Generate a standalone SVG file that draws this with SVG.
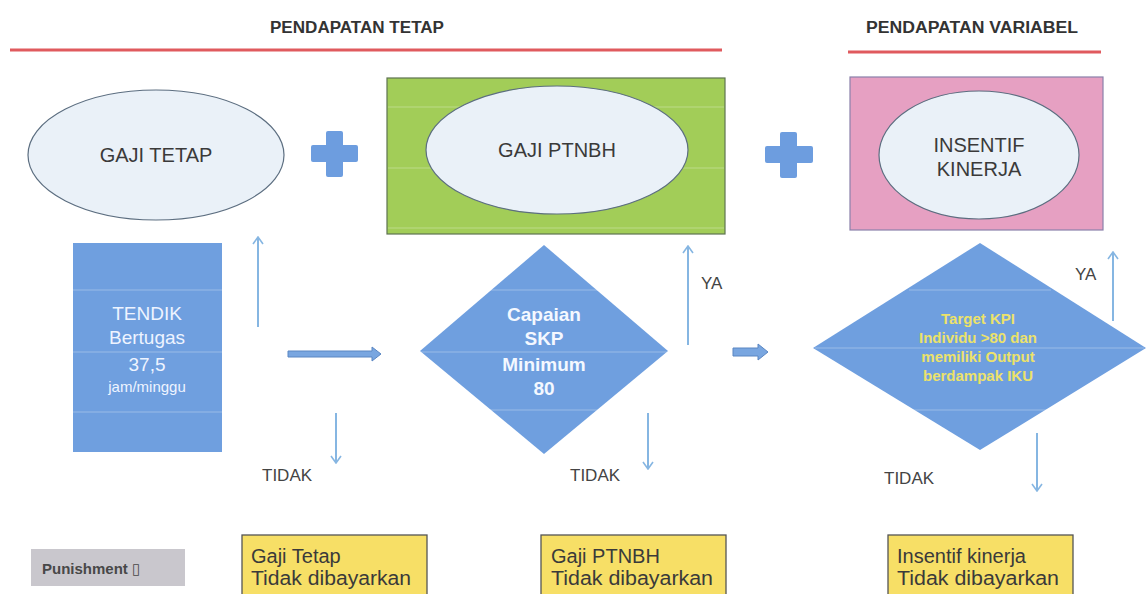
<svg xmlns="http://www.w3.org/2000/svg" width="1147" height="594" viewBox="0 0 1147 594">
<defs>
<style>
.hdr{font-family:"Liberation Sans",Arial,sans-serif;font-weight:bold;font-size:16px;fill:#333}
.ell{fill:#eaf1f8;stroke:#5c6e80;stroke-width:1.2}
.et{font-family:"Liberation Sans",Arial,sans-serif;font-size:20px;fill:#3a3a3a;text-anchor:middle}
.plus{fill:#6d9ddf}
.blue{fill:#6f9fdf}
.scan{stroke:#ffffff;stroke-opacity:0.3;stroke-width:1}
.wt{font-family:"Liberation Sans",Arial,sans-serif;fill:#eef4ff;text-anchor:middle}
.bt{font-family:"Liberation Sans",Arial,sans-serif;font-weight:bold;font-size:19px;fill:#f4f8ff;text-anchor:middle}
.yt{font-family:"Liberation Sans",Arial,sans-serif;font-weight:bold;font-size:15px;fill:#ece26a;text-anchor:middle}
.thin{stroke:#86b6e2;stroke-width:2;fill:none}
.lbl{font-family:"Liberation Sans",Arial,sans-serif;font-size:17px;fill:#444}
.ybox{fill:#f7df66;stroke:#555;stroke-width:1.3}
.ytx{font-family:"Liberation Sans",Arial,sans-serif;font-size:20px;fill:#3a3a3a}
.blk{fill:#79a6e0;stroke:#5a86c2;stroke-width:1}
</style>
<marker id="ah" viewBox="0 0 12 12" refX="11" refY="6" markerWidth="12" markerHeight="12" markerUnits="userSpaceOnUse" orient="auto">
<polyline points="4,1 11,6 4,11" fill="none" stroke="#86b6e2" stroke-width="1.6"/>
</marker>
</defs>
<rect width="1147" height="594" fill="#ffffff"/>

<g id="header-tetap">
<text class="hdr" x="270" y="33" textLength="174" lengthAdjust="spacingAndGlyphs">PENDAPATAN TETAP</text>
<line x1="10" y1="50" x2="722" y2="50" stroke="#e05a5e" stroke-width="3"/>
</g>
<g id="header-variabel">
<text class="hdr" x="866" y="33" textLength="212" lengthAdjust="spacingAndGlyphs">PENDAPATAN VARIABEL</text>
<line x1="848" y1="52" x2="1101" y2="52" stroke="#e05a5e" stroke-width="3"/>
</g>

<g id="gaji-tetap">
<ellipse class="ell" cx="156" cy="155" rx="128" ry="65"/>
<text class="et" x="156" y="162">GAJI TETAP</text>
</g>

<g id="plus-1">
<rect class="plus" x="326" y="131" width="17" height="46" rx="2"/>
<rect class="plus" x="311" y="145" width="47" height="17" rx="2"/>
</g>

<g id="gaji-ptnbh">
<rect x="387" y="78" width="338" height="156" fill="#a2cd58" stroke="#5e7350" stroke-width="1.2"/>
<line class="scan" x1="388" y1="107" x2="724" y2="107"/>
<line class="scan" x1="388" y1="168" x2="724" y2="168"/>
<line class="scan" x1="388" y1="228" x2="724" y2="228"/>
<ellipse class="ell" cx="557" cy="150" rx="131" ry="64"/>
<text class="et" x="557" y="157">GAJI PTNBH</text>
</g>

<g id="plus-2">
<rect class="plus" x="780" y="132" width="17" height="46" rx="2"/>
<rect class="plus" x="765" y="146" width="48" height="17" rx="2"/>
</g>

<g id="insentif-kinerja">
<rect x="850" y="77" width="253" height="153" fill="#e6a0c2" stroke="#8a80aa" stroke-width="1.2"/>
<ellipse class="ell" cx="979" cy="155" rx="100" ry="64"/>
<text class="et" x="979" y="152">INSENTIF</text>
<text class="et" x="979" y="176">KINERJA</text>
</g>

<g id="tendik">
<rect class="blue" x="73" y="243" width="149" height="209"/>
<line class="scan" x1="73" y1="290" x2="222" y2="290"/>
<line class="scan" x1="73" y1="352" x2="222" y2="352"/>
<line class="scan" x1="73" y1="412" x2="222" y2="412"/>
<text class="wt" x="147" y="320" font-size="19">TENDIK</text>
<text class="wt" x="147" y="344" font-size="19">Bertugas</text>
<text class="wt" x="147" y="371" font-size="19">37,5</text>
<text class="wt" x="147" y="392" font-size="15">jam/minggu</text>
</g>

<g id="capaian-skp">
<polygon class="blue" points="544,245 668,351 544,454 420,351"/>
<line class="scan" x1="480" y1="290" x2="608" y2="290"/>
<line class="scan" x1="421" y1="352" x2="667" y2="352"/>
<line class="scan" x1="474" y1="410" x2="614" y2="410"/>
<text class="bt" x="544" y="321">Capaian</text>
<text class="bt" x="544" y="345">SKP</text>
<text class="bt" x="544" y="371">Minimum</text>
<text class="bt" x="544" y="395">80</text>
</g>

<g id="target-kpi">
<polygon class="blue" points="980,243 1146,348 980,450 813,348"/>
<line class="scan" x1="909" y1="290" x2="1051" y2="290"/>
<line class="scan" x1="815" y1="348" x2="1144" y2="348"/>
<line class="scan" x1="882" y1="410" x2="1078" y2="410"/>
<text class="yt" x="978" y="324">Target KPI</text>
<text class="yt" x="978" y="343">Individu &gt;80 dan</text>
<text class="yt" x="978" y="362">memiliki Output</text>
<text class="yt" x="978" y="381">berdampak IKU</text>
</g>

<g id="punishment">
<rect x="31" y="549" width="154" height="37" fill="#c9c7cd"/>
<text x="42" y="574" font-family="Liberation Sans, DejaVu Sans, sans-serif" font-weight="bold" font-size="15" fill="#484848">Punishment ▯</text>
</g>

<g id="gaji-tetap-tidak">
<rect class="ybox" x="242" y="535" width="185" height="70"/>
<text class="ytx" x="251" y="563">Gaji Tetap</text>
<text class="ytx" x="251" y="585" textLength="160" lengthAdjust="spacingAndGlyphs">Tidak dibayarkan</text>
</g>
<g id="gaji-ptnbh-tidak">
<rect class="ybox" x="541" y="535" width="185" height="70"/>
<text class="ytx" x="551" y="563">Gaji PTNBH</text>
<text class="ytx" x="551" y="585" textLength="162" lengthAdjust="spacingAndGlyphs">Tidak dibayarkan</text>
</g>
<g id="insentif-tidak">
<rect class="ybox" x="888" y="535" width="185" height="70"/>
<text class="ytx" x="897" y="563">Insentif kinerja</text>
<text class="ytx" x="897" y="585" textLength="162" lengthAdjust="spacingAndGlyphs">Tidak dibayarkan</text>
</g>

<g id="connectors">
<line class="thin" x1="258" y1="327" x2="258" y2="237" marker-end="url(#ah)"/>
<line class="thin" x1="336" y1="413" x2="336" y2="463" marker-end="url(#ah)"/>
<text class="lbl" x="262" y="481">TIDAK</text>
<polygon class="blk" points="288,351 372,351 372,347 381,354 372,361 372,357 288,357"/>
<line class="thin" x1="688" y1="345" x2="688" y2="246" marker-end="url(#ah)"/>
<text class="lbl" x="701" y="289">YA</text>
<line class="thin" x1="648" y1="413" x2="648" y2="469" marker-end="url(#ah)"/>
<text class="lbl" x="570" y="481">TIDAK</text>
<polygon class="blk" points="733,348 758,348 758,344 768,352 758,360 758,356 733,356"/>
<line class="thin" x1="1113" y1="321" x2="1113" y2="252" marker-end="url(#ah)"/>
<text class="lbl" x="1075" y="280">YA</text>
<line class="thin" x1="1037" y1="433" x2="1037" y2="491" marker-end="url(#ah)"/>
<text class="lbl" x="884" y="484">TIDAK</text>
</g>
</svg>
